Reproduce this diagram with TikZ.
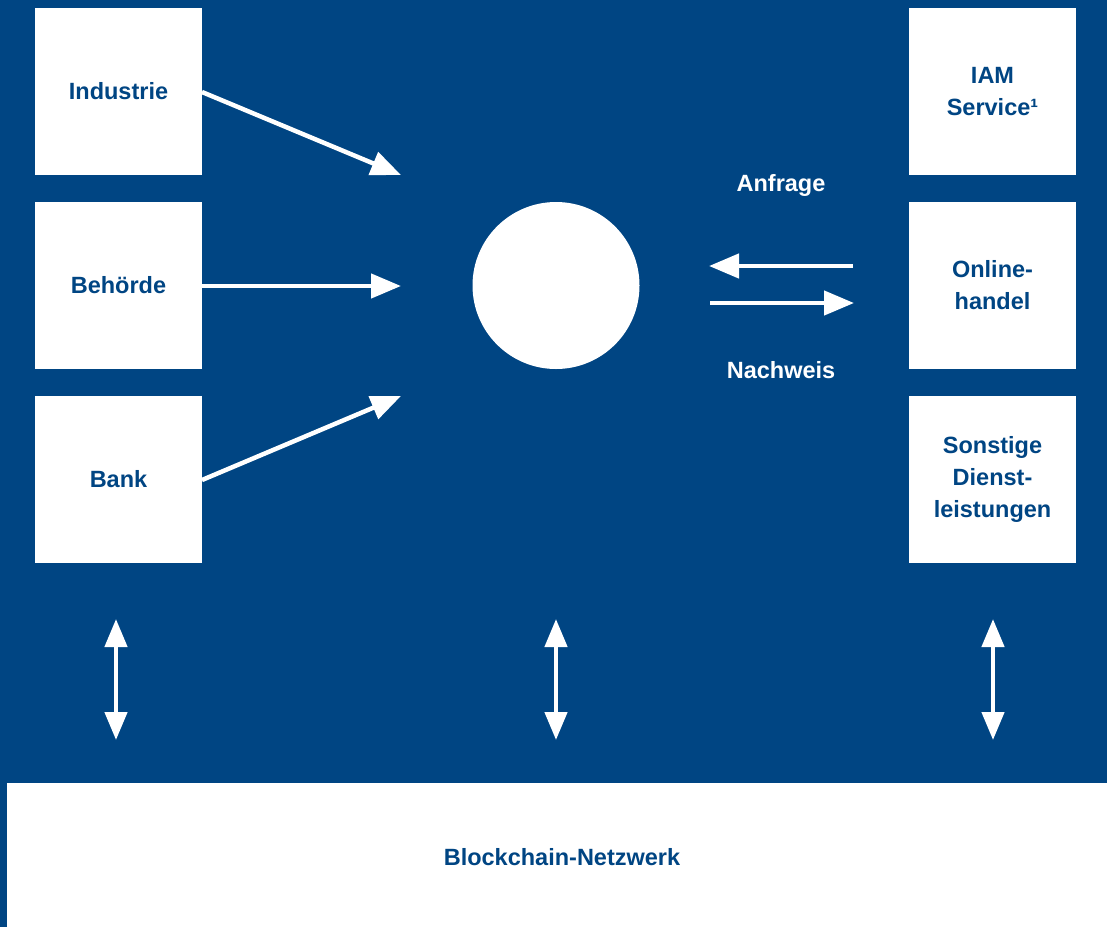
\documentclass[tikz,border=0pt]{standalone}
\usepackage{fontspec}
\setmainfont{Liberation Sans}
\usetikzlibrary{arrows.meta}
\definecolor{bgblue}{RGB}{0,69,131}
\tikzset{
  box/.style={fill=white, draw=none, minimum width=167pt, minimum height=167pt, inner sep=0pt,
    font=\fontsize{23.5}{32}\selectfont\bfseries, text=bgblue, align=center},
  arr/.style={white, line width=4.5pt, -{Triangle[length=30pt,width=24pt]}},
  darr/.style={white, line width=4.5pt, {Triangle[length=28pt,width=22pt]}-{Triangle[length=28pt,width=22pt]}},
  lbl/.style={font=\fontsize{23.5}{28}\selectfont\bfseries, text=white}
}
\begin{document}
\begin{tikzpicture}[x=1pt,y=-1pt]
\useasboundingbox (0,0) rectangle (1107,927);
\fill[bgblue] (0,0) rectangle (1107,927);
\fill[white] (7,783) rectangle (1107,927);
\node[font=\fontsize{23.5}{28}\selectfont\bfseries, text=bgblue] (bc) at (562,857) {Blockchain-Netzwerk};
\node[box] (ind) at (118.5,91.5) {Industrie};
\node[box] (beh) at (118.5,285.5) {Behörde};
\node[box] (bank) at (118.5,479) {Bank};
\node[box] (iam) at (992.5,91.5) {IAM\\Service¹};
\node[box] (onl) at (992.5,285.5) {Online-\\handel};
\node[box] (son) at (992.5,479) {Sonstige\\Dienst-\\leistungen};
\node[circle, fill=white, minimum size=167pt, inner sep=0pt] (c) at (556,285.5) {};
\coordinate (i1) at (202,92); \coordinate (i2) at (401,175);
\coordinate (b1) at (202,286); \coordinate (b2) at (401,286);
\coordinate (k1) at (202,480); \coordinate (k2) at (401,396);
\draw[arr] (i1) -- (i2);
\draw[arr] (b1) -- (b2);
\draw[arr] (k1) -- (k2);
\coordinate (r1) at (853,266); \coordinate (r2) at (709,266);
\coordinate (s1) at (710,303); \coordinate (s2) at (854,303);
\draw[arr] (r1) -- (r2);
\draw[arr] (s1) -- (s2);
\node[lbl] (anf) at (781,185) {Anfrage};
\node[lbl] (nach) at (781,370) {Nachweis};
\foreach \x/\n in {116/a, 556/b, 993/c} {
  \coordinate (u\n) at (\x,619);
  \coordinate (d\n) at (\x,740);
  \draw[darr] (u\n) -- (d\n);
}
\end{tikzpicture}
\end{document}
